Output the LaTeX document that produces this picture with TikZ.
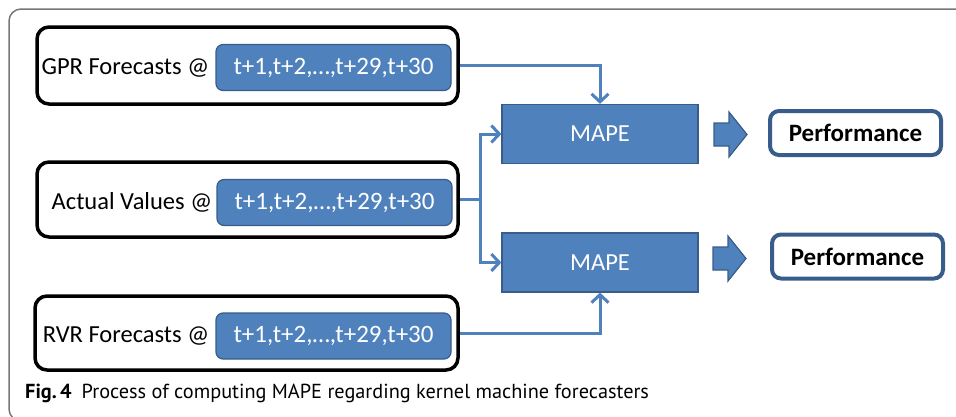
\documentclass[tikz,border=0pt]{standalone}
\usepackage{fontspec}
\setmainfont{Carlito}
\newfontfamily\capfont{PT Sans}
\usetikzlibrary{arrows.meta}
\definecolor{bfill}{HTML}{4F81BD}
\definecolor{bdark}{HTML}{385D8A}
\definecolor{framegray}{HTML}{777777}
\begin{document}
\begin{tikzpicture}[x=1pt,y=-1pt,
  outerbox/.style={draw=black, line width=3.5pt, rounded corners=12pt, inner sep=0pt, fill=white},
  innerbox/.style={draw=bdark, line width=1.2pt, fill=bfill, rounded corners=7pt, inner sep=0pt,
    minimum width=235pt, minimum height=46pt, text=white, font=\fontsize{25}{29}\selectfont},
  lbl/.style={anchor=east, inner sep=0pt, font=\fontsize{24.5}{28}\selectfont},
  mapebox/.style={draw=bdark, line width=1.2pt, fill=bfill, inner sep=0pt,
    minimum width=196pt, minimum height=59pt, text=white, font=\fontsize{24.5}{28}\selectfont},
  perfbox/.style={draw=bdark, line width=4pt, rounded corners=9pt, fill=white, inner sep=0pt,
    minimum width=171pt, minimum height=44pt, font=\fontsize{25}{29}\selectfont\bfseries},
  conn/.style={draw=bfill, line width=3pt, -{Straight Barb[length=8pt,width=17pt]}},
  link/.style={draw=bfill, line width=3pt},
  blockarrow/.style={fill=bfill, draw=bdark, line width=1.2pt, line join=miter}
]
\useasboundingbox (0,0) rectangle (956,416);
\begin{scope}
\clip (0,0) rectangle (956,416);
\draw[framegray, line width=1.5pt, rounded corners=12pt] (9,9) rectangle (1000,421);
\end{scope}

% input boxes
\node[outerbox, minimum width=421pt, minimum height=77pt] (gpr) at (247.5,65.5) {};
\node[innerbox] (gprv) at (333.5,67.5) {t+1,t+2,\ldots,t+29,t+30};
\node[lbl] (gprl) at ([xshift=-6pt]gprv.west) {GPR Forecasts @};

\node[outerbox, minimum width=421pt, minimum height=75pt] (act) at (247.5,199.5) {};
\node[innerbox] (actv) at (334.5,202.5) {t+1,t+2,\ldots,t+29,t+30};
\node[lbl] (actl) at ([xshift=-4pt]actv.west) {Actual Values @};

\node[outerbox, minimum width=423pt, minimum height=74pt] (rvr) at (246.5,333) {};
\node[innerbox] (rvrv) at (333.5,336) {t+1,t+2,\ldots,t+29,t+30};
\node[lbl] (rvrl) at ([xshift=-6pt]rvrv.west) {RVR Forecasts @};

% MAPE boxes
\node[mapebox] (mape1) at (600,134) {MAPE};
\node[mapebox] (mape2) at (600,262.5) {MAPE};

% performance boxes
\node[perfbox] (perf1) at (855.5,133) {Performance};
\node[perfbox] (perf2) at (857.5,256.5) {Performance};

% connectors
\draw[conn] (gpr.east) -| (mape1.north);
\draw[conn] (rvr.east) -| (mape2.south);
\draw[link] (act.east) -- ++(21,0) coordinate (split);
\draw[conn] (split) |- (mape1.west);
\draw[conn] (split) |- (mape2.west);

% block arrows
\coordinate (ba1) at (714,134.5);
\coordinate (ba2) at (713,258.5);
\foreach \c in {ba1,ba2}{
  \draw[blockarrow] (\c) ++(0,-11.5) -- ++(15,0) -- ++(0,-11) -- ++(18,22.5) -- ++(-18,22.5) -- ++(0,-11) -- ++(-15,0) -- cycle;
}

% caption
\node[anchor=base west, inner sep=0pt, font=\capfont\fontsize{20.3}{24}\selectfont] (cap) at (25,398)
  {\textbf{Fig.\,4}\hspace{10pt}Process of computing MAPE regarding kernel machine forecasters};
\end{tikzpicture}
\end{document}
